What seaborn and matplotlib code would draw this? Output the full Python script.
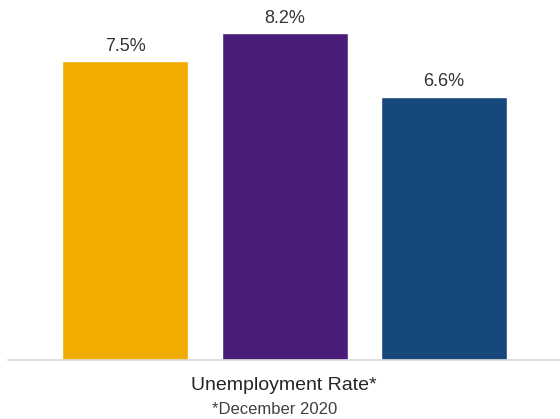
import matplotlib
matplotlib.use("Agg")
import matplotlib.pyplot as plt
import seaborn as sns
import pandas as pd

categories = ["Group A", "Group B", "Group C"]
values = [7.5, 8.2, 6.6]
value_labels = ["7.5%", "8.2%", "6.6%"]
colors = ["#F0AC00", "#4A1E78", "#16487C"]
x_title = "Unemployment Rate*"
footnote = "*December 2020"

sns.set_theme(style="white")
plt.rcParams["font.family"] = ["Liberation Sans", "DejaVu Sans"]

df = pd.DataFrame({"cat": categories, "val": values})

fig = plt.figure(figsize=(5.6, 4.19), dpi=100)
ax = fig.add_axes([8 / 560, 59 / 419, 552 / 560, 359 / 419])

sns.barplot(data=df, x="cat", y="val", hue="cat", palette=colors,
            width=0.79, legend=False, ax=ax, saturation=1)

for cont, lab in zip(ax.containers, value_labels):
    ax.bar_label(cont, labels=[lab], padding=4.5, fontsize=13, color="#333333")

ax.set_xlim(-0.734, 2.727)
ax.set_ylim(0, 9)
ax.set_yticks([])
ax.set_xticks([])
ax.set_ylabel("")
ax.set_xlabel(x_title, fontsize=14, color="#262626", labelpad=12)
for s in ["top", "left", "right"]:
    ax.spines[s].set_visible(False)
ax.spines["bottom"].set_color("#d9d9d9")
ax.spines["bottom"].set_linewidth(1.2)

fig.text(275 / 560, 1 - 409 / 419, footnote, ha="center", va="center",
         fontsize=12, color="#404040")

fig.savefig("out.png", dpi=100)
